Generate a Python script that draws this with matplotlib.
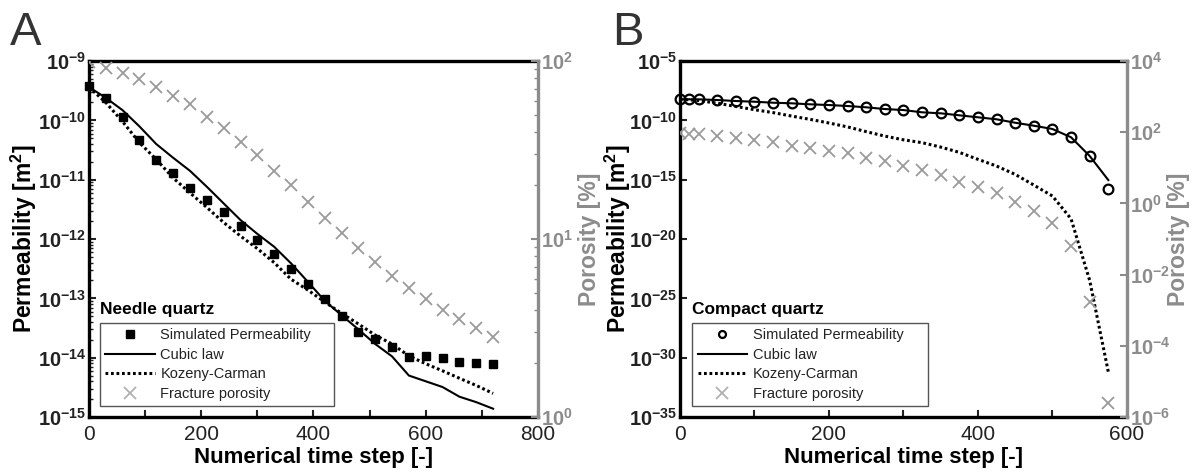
import numpy as np
import matplotlib
matplotlib.use('Agg')
import matplotlib.pyplot as plt
from matplotlib.ticker import FixedLocator, FuncFormatter, LogLocator, NullLocator, NullFormatter

plt.rcParams['font.family'] = ['Liberation Sans', 'DejaVu Sans']
plt.rcParams['mathtext.fontset'] = 'custom'
plt.rcParams['mathtext.rm'] = 'Liberation Sans'
plt.rcParams['mathtext.bf'] = 'Liberation Sans:bold'
plt.rcParams['mathtext.default'] = 'bf'

# ---- panel A: needle quartz ----
step_a = [0, 30, 60, 90, 120, 150, 180, 210, 240, 270, 300, 330, 360,
          390, 420, 450, 480, 510, 540, 570, 600, 630, 660, 690, 720]
sim_a = [3.79e-10, 2.35e-10, 1.12e-10, 4.66e-11, 2.14e-11, 1.28e-11, 7.14e-12,
         4.54e-12, 2.81e-12, 1.66e-12, 9.6e-13, 5.5e-13, 3.12e-13, 1.72e-13,
         9.6e-14, 5.04e-14, 2.74e-14, 2.04e-14, 1.53e-14, 1.04e-14, 1.07e-14,
         9.98e-15, 8.35e-15, 8.04e-15, 7.73e-15]
cubic_a = [3.63e-10, 2.40e-10, 1.48e-10, 7.9e-11, 3.98e-11, 2.34e-11, 1.41e-11,
           7.6e-12, 3.98e-12, 2.09e-12, 1.22e-12, 7.4e-13, 3.89e-13, 1.9e-13,
           9.1e-14, 5.2e-14, 3.0e-14, 1.70e-14, 1.05e-14, 5.0e-15, 4.0e-15,
           3.2e-15, 2.2e-15, 1.78e-15, 1.38e-15]
kc_a = [3.63e-10, 2.0e-10, 9.5e-11, 4.2e-11, 2.19e-11, 1.07e-11, 6.0e-12,
        3.4e-12, 1.9e-12, 1.12e-12, 6.9e-13, 4.0e-13, 2.1e-13, 1.38e-13,
        8.7e-14, 5.6e-14, 3.7e-14, 2.4e-14, 1.70e-14, 1.07e-14, 7.9e-15,
        6.0e-15, 4.5e-15, 3.4e-15, 2.5e-15]
poro_a = [99.0, 91.6, 85.9, 78.9, 71.8, 63.8, 57.1, 48.6, 41.9, 35.2, 29.6,
          24.2, 20.1, 16.1, 13.1, 10.8, 8.87, 7.40, 6.22, 5.28, 4.58, 3.99,
          3.54, 3.18, 2.82]

# ---- panel B: compact quartz ----
step_b = [0, 12.5, 25, 50, 75, 100, 125, 150, 175, 200, 225, 250, 275, 300,
          325, 350, 375, 400, 425, 450, 475, 500, 525, 550, 575]
sim_b = [5.93e-9, 5.93e-9, 5.93e-9, 5.18e-9, 4.27e-9, 3.72e-9, 3.07e-9,
         2.73e-9, 2.25e-9, 1.96e-9, 1.62e-9, 1.26e-9, 9.0e-10, 7.4e-10,
         4.76e-10, 3.93e-10, 2.66e-10, 1.81e-10, 1.23e-10, 6.3e-11, 3.54e-11,
         1.87e-11, 3.73e-12, 9.9e-14, 1.55e-16]
cubic_b = [5.93e-9, 5.93e-9, 5.93e-9, 5.18e-9, 4.27e-9, 3.72e-9, 3.07e-9,
           2.73e-9, 2.25e-9, 1.96e-9, 1.62e-9, 1.26e-9, 9.0e-10, 7.4e-10,
           4.76e-10, 3.93e-10, 2.66e-10, 1.81e-10, 1.23e-10, 6.3e-11, 3.54e-11,
           1.87e-11, 3.73e-12, 9.9e-14, 9.3e-16]
kc_b = [5.9e-9, 5.4e-9, 4.7e-9, 2.8e-9, 1.48e-9, 7.9e-10, 4.5e-10, 2.3e-10,
        1.2e-10, 6.0e-11, 2.8e-11, 1.12e-11, 4.7e-12, 2.3e-12, 1.32e-12,
        5.6e-13, 2.0e-13, 5.2e-14, 1.41e-14, 2.8e-15, 3.5e-16, 4.2e-17,
        5.0e-19, 3.2e-24, 6.3e-32]
poro_b = [93.1, 91.0, 89.0, 78.2, 67.5, 60.4, 52.1, 41.8, 35.3, 30.3, 25.6,
          19.2, 15.5, 11.5, 8.67, 6.28, 4.07, 2.94, 1.92, 1.12, 0.624, 0.276,
          0.0649, 0.00173, 2.43e-6]

labels = ['Simulated Permeability', 'Cubic law', 'Kozeny-Carman', 'Fracture porosity']

GREY = '#8c8c8c'
XGREY = '#9a9a9a'
DARK = '#222222'
DOTS = (0, (0.9, 0.9))


def exp_fmt(v, pos):
    return r'$10^{%d}$' % int(round(np.log10(v)))


def style_axes(ax, ax2, xmax, xticks, xlabels):
    for s in ['left', 'top', 'bottom']:
        ax.spines[s].set_linewidth(2.4)
        ax.spines[s].set_color('black')
    ax.spines['right'].set_visible(False)
    for s in ['left', 'top', 'bottom']:
        ax2.spines[s].set_visible(False)
    ax2.spines['right'].set_color(GREY)
    ax2.spines['right'].set_linewidth(2.4)
    ax.set_xlim(0, xmax)
    ax.xaxis.set_major_locator(FixedLocator(xticks))
    ax.set_xticklabels(xlabels)
    ax.tick_params(axis='x', direction='in', length=5, width=1.5, colors=DARK,
                   labelsize=15, pad=6, top=False)
    ax.tick_params(axis='x', which='minor', bottom=False, top=False)
    ax.tick_params(axis='y', which='both', direction='in', colors=DARK,
                   labelsize=14.5, pad=2, right=False)
    ax.tick_params(axis='y', which='major', length=5, width=1.5)
    ax.tick_params(axis='y', which='minor', length=3, width=1)
    ax2.tick_params(axis='y', which='both', direction='in', colors=GREY,
                    labelsize=14.5, pad=2)
    ax2.tick_params(axis='y', which='major', length=5, width=1.5)
    ax2.tick_params(axis='y', which='minor', length=3, width=1)
    ax.set_xlabel('Numerical time step [-]', fontsize=16, fontweight='bold', color='black')
    ax.xaxis.set_label_coords(0.5, -0.083)
    ax.set_ylabel(r'Permeability [m$^2$]', fontsize=16.5, fontweight='bold', color='black')
    ax2.set_ylabel('Porosity [%]', fontsize=16.5, fontweight='bold', color=GREY)


fig = plt.figure(figsize=(11.99, 4.72), dpi=100)

# ----- A -----
axA = fig.add_axes([0.0742, 0.1165, 0.3745, 0.7542])
axA2 = axA.twinx()
axA.set_yscale('log')
axA2.set_yscale('log')
h1, = axA.plot(step_a, sim_a, 's', color='black', markersize=5.8, linestyle='none',
               clip_on=False, zorder=3)
h2, = axA.plot(step_a, cubic_a, '-', color='black', linewidth=1.5)
h3, = axA.plot(step_a, kc_a, linestyle=DOTS, color='black', linewidth=2.2)
h4, = axA2.plot(step_a, poro_a, 'x', color=XGREY, markersize=8, markeredgewidth=1.3,
                linestyle='none')
axA.set_ylim(1e-15, 1e-9)
axA2.set_ylim(1, 100)
axA.yaxis.set_major_locator(LogLocator(base=10, numticks=20))
axA.yaxis.set_minor_locator(LogLocator(base=10, subs=np.arange(2, 10), numticks=20))
axA.yaxis.set_major_formatter(FuncFormatter(exp_fmt))
axA.yaxis.set_minor_formatter(NullFormatter())
axA2.yaxis.set_major_locator(FixedLocator([1, 10, 100]))
axA2.yaxis.set_minor_locator(LogLocator(base=10, subs=np.arange(2, 10), numticks=20))
axA2.yaxis.set_major_formatter(FuncFormatter(exp_fmt))
axA2.yaxis.set_minor_formatter(NullFormatter())
style_axes(axA, axA2, 800, [0, 100, 200, 300, 400, 500, 600, 700, 800],
           ['0', '', '200', '', '400', '', '600', '', '800'])
axA.yaxis.set_label_coords(-0.112, 0.5)
axA2.yaxis.set_label_coords(1.089, 0.5)

legA = axA2.legend([h1, h2, h3, h4], labels, loc='lower left',
                   bbox_to_anchor=(0.0245, 0.031, 0.522, 0.234), mode='expand',
                   borderaxespad=0, fontsize=10.5, handlelength=3.4,
                   handletextpad=0.4, labelspacing=0.38, borderpad=0.35,
                   fancybox=False, edgecolor='#555555', framealpha=1,
                   labelcolor=DARK)
legA.get_frame().set_linewidth(1.0)
legA.legend_handles[3].set_color('#b0b0b0')
axA2.text(0.0245, 0.288, 'Needle quartz', transform=axA2.transAxes,
          fontsize=12.5, fontweight='bold', color='black', va='baseline')

# ----- B -----
axB = fig.add_axes([0.5671, 0.1165, 0.3728, 0.7542])
axB2 = axB.twinx()
axB.set_yscale('log')
axB2.set_yscale('log')
g1, = axB.plot(step_b, sim_b, 'o', color='black', markerfacecolor='none',
               markersize=7, markeredgewidth=1.6, linestyle='none',
               clip_on=False, zorder=3)
g2, = axB.plot(step_b, cubic_b, '-', color='black', linewidth=1.5)
g3, = axB.plot(step_b, kc_b, linestyle=DOTS, color='black', linewidth=2.2)
g4, = axB2.plot(step_b, poro_b, 'x', color=XGREY, markersize=8, markeredgewidth=1.3,
                linestyle='none')
axB.set_ylim(1e-35, 1e-5)
axB2.set_ylim(1e-6, 1e4)
axB.yaxis.set_major_locator(FixedLocator([1e-35, 1e-30, 1e-25, 1e-20, 1e-15, 1e-10, 1e-5]))
axB.yaxis.set_minor_locator(NullLocator())
axB.yaxis.set_major_formatter(FuncFormatter(exp_fmt))
axB2.yaxis.set_major_locator(FixedLocator([1e-6, 1e-4, 1e-2, 1, 1e2, 1e4]))
axB2.yaxis.set_minor_locator(NullLocator())
axB2.yaxis.set_major_formatter(FuncFormatter(exp_fmt))
style_axes(axB, axB2, 600, [0, 100, 200, 300, 400, 500, 600],
           ['0', '', '200', '', '400', '', '600'])
axB.yaxis.set_label_coords(-0.106, 0.5)
axB2.yaxis.set_label_coords(1.089, 0.5)

legB = axB2.legend([g1, g2, g3, g4], labels, loc='lower left',
                   bbox_to_anchor=(0.028, 0.031, 0.526, 0.234), mode='expand',
                   borderaxespad=0, fontsize=10.5, handlelength=3.4,
                   handletextpad=0.4, labelspacing=0.38, borderpad=0.35,
                   fancybox=False, edgecolor='#555555', framealpha=1,
                   labelcolor=DARK)
legB.get_frame().set_linewidth(1.0)
legB.legend_handles[0].set_markersize(5)
legB.legend_handles[3].set_color('#b0b0b0')
axB2.text(0.028, 0.288, 'Compact quartz', transform=axB2.transAxes,
          fontsize=12.5, fontweight='bold', color='black', va='baseline')

# panel letters
fig.text(10 / 1199, 1 - 45 / 472, 'A', fontsize=34, color='#333333')
fig.text(612 / 1199, 1 - 45 / 472, 'B', fontsize=34, color='#333333')

fig.savefig('out.png', dpi=100)
